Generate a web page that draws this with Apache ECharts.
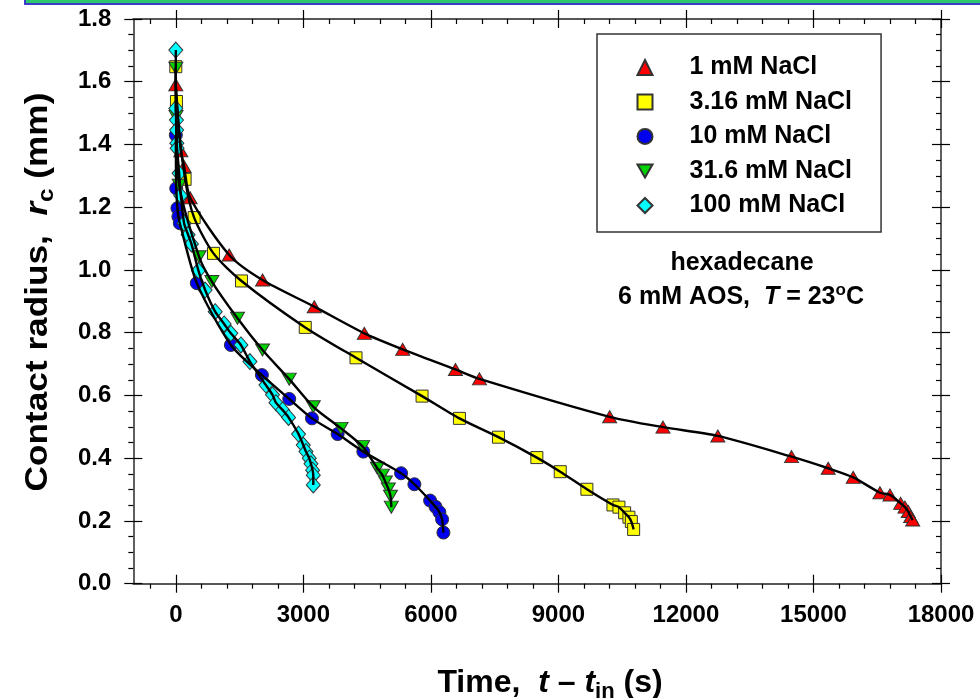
<!DOCTYPE html>
<html>
<head>
<meta charset="utf-8">
<script src="https://cdn.jsdelivr.net/npm/echarts@6/dist/echarts.min.js"></script>
<style>
  html, body { margin: 0; padding: 0; background: #ffffff; }
  #chart { width: 980px; height: 698px; }
</style>
</head>
<body>
<div id="chart"></div>
<script>
// Contact radius r_c (mm) versus time t - t_in (s) for hexadecane drops,
// 6 mM AOS at 23 °C, one series per NaCl concentration.
const seriesNames = ['1 mM NaCl', '3.16 mM NaCl', '10 mM NaCl', '31.6 mM NaCl', '100 mM NaCl'];

const time1mM = [0, 118, 195, 337, 1255, 2040, 3257, 4435, 5337, 6578, 7143, 10205, 11460, 12750, 14484, 15346, 15935, 16563, 16799, 17051, 17152, 17230, 17286, 17334];
const radius1mM = [1.59, 1.38, 1.33, 1.23, 1.048, 0.968, 0.883, 0.798, 0.747, 0.683, 0.653, 0.532, 0.499, 0.471, 0.405, 0.368, 0.339, 0.290, 0.283, 0.256, 0.244, 0.230, 0.214, 0.203];

const time3mM = [0, 15, 219, 431, 886, 1545, 3045, 4239, 5793, 6672, 7590, 8493, 9043, 9670, 10283, 10424, 10558, 10659, 10716, 10770];
const radius3mM = [1.648, 1.537, 1.289, 1.167, 1.053, 0.965, 0.817, 0.720, 0.598, 0.527, 0.467, 0.402, 0.357, 0.301, 0.251, 0.244, 0.226, 0.212, 0.198, 0.173];

const time10mM = [0, 10, 38, 61, 94, 494, 1295, 2025, 2668, 3203, 3806, 4411, 5299, 5612, 5982, 6110, 6200, 6264, 6295];
const radius10mM = [1.43, 1.26, 1.197, 1.17, 1.149, 0.958, 0.761, 0.665, 0.589, 0.527, 0.477, 0.421, 0.352, 0.317, 0.265, 0.245, 0.228, 0.205, 0.163];

const time31mM = [0, 5, 80, 549, 848, 1451, 2040, 2668, 3234, 3886, 4395, 4740, 4860, 4930, 5000, 5050, 5070];
const radius31mM = [1.643, 1.489, 1.27, 1.042, 0.963, 0.846, 0.745, 0.652, 0.564, 0.495, 0.437, 0.368, 0.346, 0.324, 0.302, 0.279, 0.244];

const time100mM = [0, 0, 15, 20, 24, 30, 78, 118, 195, 290, 368, 532, 690, 926, 1137, 1295, 1531, 1743, 2120, 2275, 2355, 2511, 2652, 2887, 2998, 3062, 3139, 3179, 3218, 3234, 3234];
const radius100mM = [1.701, 1.515, 1.478, 1.446, 1.404, 1.388, 1.308, 1.237, 1.149, 1.112, 1.083, 0.998, 0.936, 0.867, 0.828, 0.798, 0.761, 0.708, 0.633, 0.602, 0.577, 0.554, 0.530, 0.477, 0.442, 0.421, 0.400, 0.382, 0.362, 0.346, 0.315];

// Axis ticks
const xMajorTicks = [0, 3000, 6000, 9000, 12000, 15000, 18000];
const xMinorTicks = [-600, 600, 1200, 1800, 2400, 3600, 4200, 4800, 5400, 6600, 7200, 7800, 8400, 9600, 10200, 10800, 11400, 12600, 13200, 13800, 14400, 15600, 16200, 16800, 17400];
const X_MIN = -1000, X_MAX = 18000;
const Y_MIN = 0, Y_MAX = 1.8, Y_STEP = 0.2;

const FONT = '"Liberation Sans", Arial, Helvetica, sans-serif';
const AXIS_LINE = { show: true, onZero: false, lineStyle: { color: '#555555', width: 1.5 } };
const TICK_STYLE = { color: '#000000', width: 1.2 };

// Downward-pointing triangle marker
const DOWN_TRIANGLE = 'path://M0,0 L20,0 L10,17.3 Z';

const sets = [
  { t: time1mM,   r: radius1mM,   symbol: 'triangle',    size: [14, 12], color: '#ff0000' },
  { t: time3mM,   r: radius3mM,   symbol: 'rect',        size: 12,       color: '#ffff00' },
  { t: time10mM,  r: radius10mM,  symbol: 'circle',      size: 13,       color: '#0000ee' },
  { t: time31mM,  r: radius31mM,  symbol: DOWN_TRIANGLE, size: [14, 12], color: '#00d400' },
  { t: time100mM, r: radius100mM, symbol: 'diamond',     size: [14, 16], color: '#00ffff' }
];

function pairs(t, r) { return t.map((v, i) => [v, r[i]]); }

function xAxis(position, tickValues, tickLen, inside, withLabels) {
  return {
    type: 'value', position: position, min: X_MIN, max: X_MAX,
    axisLine: AXIS_LINE, splitLine: { show: false },
    axisTick: { show: true, customValues: tickValues, length: tickLen, inside: inside, lineStyle: TICK_STYLE },
    axisLabel: withLabels ? {
      show: true, customValues: xMajorTicks, margin: 20, formatter: v => String(v),
      color: '#000', fontFamily: FONT, fontWeight: 'bold', fontSize: 24
    } : { show: false }
  };
}

function yAxis(position, tickLen, inside, minor, withLabels) {
  return {
    type: 'value', position: position, min: Y_MIN, max: Y_MAX, interval: Y_STEP,
    axisLine: AXIS_LINE, splitLine: { show: false },
    axisTick: { show: true, length: tickLen, inside: inside, lineStyle: TICK_STYLE },
    minorTick: minor ? { show: true, splitNumber: 4, length: 5, lineStyle: TICK_STYLE } : { show: false },
    minorSplitLine: { show: false },
    axisLabel: withLabels ? {
      show: true, margin: 22, formatter: v => v.toFixed(1),
      color: '#000', fontFamily: FONT, fontWeight: 'bold', fontSize: 24
    } : { show: false }
  };
}

const series = [];
sets.forEach((s, i) => {
  series.push({
    name: seriesNames[i], type: 'scatter', data: pairs(s.t, s.r),
    symbol: s.symbol, symbolSize: s.size, symbolKeepAspect: false,
    itemStyle: { color: s.color, borderColor: '#333333', borderWidth: 1, opacity: 1 },
    z: 2, silent: true
  });
});
sets.forEach((s) => {
  series.push({
    type: 'line', data: pairs(s.t, s.r), showSymbol: false, symbol: 'none',
    smooth: 0.25, lineStyle: { color: '#000000', width: 2.4 },
    z: 3, silent: true
  });
});

const chart = echarts.init(document.getElementById('chart'), null, { renderer: 'canvas' });
chart.setOption({
  animation: false,
  backgroundColor: '#ffffff',
  grid: { left: 133.3, right: 39, top: 19, bottom: 114.3, containLabel: false },
  xAxis: [
    xAxis('bottom', xMajorTicks, 9, false, true),
    xAxis('bottom', xMajorTicks, 9, true, false),
    xAxis('bottom', xMinorTicks, 5, false, false),
    xAxis('top', xMajorTicks, 9, false, false),
    xAxis('top', xMajorTicks, 9, true, false),
    xAxis('top', xMinorTicks, 5, true, false)
  ],
  yAxis: [
    yAxis('left', 9, false, true, true),
    yAxis('left', 9, true, false, false),
    yAxis('right', 9, true, true, false),
    yAxis('right', 9, false, false, false)
  ],
  legend: {
    data: seriesNames, orient: 'vertical', left: 597, top: 34,
    padding: [21, 29, 14, 39.5], itemGap: 9.5, itemWidth: 15, itemHeight: 15,
    borderColor: '#333333', borderWidth: 1.5, backgroundColor: '#ffffff',
    selectedMode: false,
    textStyle: { color: '#000', fontFamily: FONT, fontWeight: 'bold', fontSize: 25, lineHeight: 25, padding: [0, 0, 0, 32] }
  },
  series: series,
  graphic: [
    {
      type: 'rect', shape: { x: 25, y: -20, width: 980, height: 24 },
      style: { fill: '#2dc76d', stroke: '#3c3cc8', lineWidth: 2 }, silent: true
    },
    {
      type: 'text', x: 742, y: 263, silent: true,
      style: { text: 'hexadecane', fill: '#000', font: 'bold 25px ' + FONT, align: 'center', verticalAlign: 'middle' }
    },
    {
      type: 'text', x: 741, y: 297, silent: true,
      style: {
        text: '{a|6 mM AOS,  }{i|T}{a| = 23}{o|o}{a|C}',
        align: 'center', verticalAlign: 'middle',
        rich: {
          a: { fill: '#000', fontFamily: FONT, fontWeight: 'bold', fontSize: 25, lineHeight: 30 },
          i: { fill: '#000', fontFamily: FONT, fontWeight: 'bold', fontStyle: 'italic', fontSize: 25, lineHeight: 30 },
          o: { fill: '#000', fontFamily: FONT, fontWeight: 'bold', fontSize: 17, lineHeight: 17, verticalAlign: 'top' }
        }
      }
    },
    {
      type: 'text', x: 550, y: 683, silent: true,
      style: {
        text: '{a|Time,  }{i|t}{a| \u2013 }{i|t}{s|in}{a| (s)}',
        align: 'center', verticalAlign: 'middle',
        rich: {
          a: { fill: '#000', fontFamily: FONT, fontWeight: 'bold', fontSize: 32, lineHeight: 40 },
          i: { fill: '#000', fontFamily: FONT, fontWeight: 'bold', fontStyle: 'italic', fontSize: 32, lineHeight: 40 },
          s: { fill: '#000', fontFamily: FONT, fontWeight: 'bold', fontSize: 22, lineHeight: 22, verticalAlign: 'bottom' }
        }
      }
    },
    {
      type: 'text', x: 38, y: 292, rotation: Math.PI / 2, scaleX: 1.1, silent: true,
      style: {
        text: '{a|Contact radius,  }{i|r}{s|c}{a| (mm)}',
        align: 'center', verticalAlign: 'middle',
        rich: {
          a: { fill: '#000', fontFamily: FONT, fontWeight: 'bold', fontSize: 32, lineHeight: 40 },
          i: { fill: '#000', fontFamily: FONT, fontWeight: 'bold', fontStyle: 'italic', fontSize: 32, lineHeight: 40 },
          s: { fill: '#000', fontFamily: FONT, fontWeight: 'bold', fontSize: 22, lineHeight: 22, verticalAlign: 'bottom' }
        }
      }
    }
  ]
});
</script>
</body>
</html>
